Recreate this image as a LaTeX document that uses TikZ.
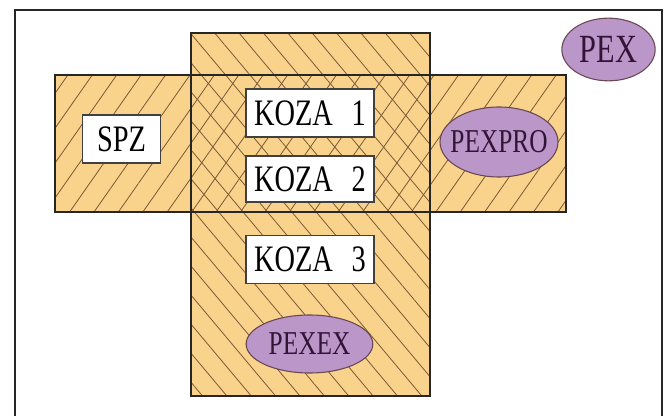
\documentclass[tikz,border=0pt]{standalone}
\usepackage{fontspec}
\usetikzlibrary{shapes.geometric,patterns.meta}
\newfontfamily\lblfont[FakeStretch=0.76]{Liberation Serif}
\definecolor{zonefill}{RGB}{249,210,140}
\definecolor{hatchcol}{RGB}{120,90,55}
\definecolor{pexfill}{RGB}{186,150,201}
\definecolor{pexline}{RGB}{105,70,80}
\definecolor{pextext}{RGB}{50,20,55}
\tikzset{
  kbox/.style={draw=black!75,line width=0.8pt,fill=white,inner sep=0pt,
    minimum width=96pt,minimum height=36pt,font=\lblfont\fontsize{28}{30}\selectfont},
  pexell/.style={ellipse,draw=pexline,line width=0.8pt,fill=pexfill,inner sep=0pt,
    text=pextext,font=\lblfont\fontsize{25}{27}\selectfont},
}
\begin{document}
\begin{tikzpicture}[x=0.75pt,y=0.75pt,yscale=-1,xscale=1]
	\useasboundingbox (0,0) rectangle (667,416);
	\fill[white] (0,0) rectangle (667,416);

	%outer frame
	\draw[line width=1.5pt,black!85] (15,10) -- (662,10) -- (662,440) -- (15,440) -- cycle ;

	%zones
	\fill[zonefill] (55,75) rectangle (566,212);
	\fill[zonefill] (191,33) rectangle (430,396);
	\path[pattern={Lines[angle=55,distance=15pt,line width=0.6pt]},pattern color=hatchcol] (55,75) rectangle (566,212);
	\path[pattern={Lines[angle=-50,distance=14pt,line width=0.6pt]},pattern color=hatchcol] (191,33) rectangle (430,396);
	\draw[line width=1.2pt,black!85] (55,75) rectangle (566,212);
	\draw[line width=1.2pt,black!85] (191,33) rectangle (430,396);

	% Text Node
	\node[kbox,minimum width=59pt] (spz) at (121.5,139) {SPZ};
	% Text Node
	\node[kbox] (koza1) at (310,113) {KOZA\enspace 1};
	% Text Node
	\node[kbox,minimum height=34.5pt] (koza2) at (310,179) {KOZA\enspace 2};
	% Text Node
	\node[kbox] (koza3) at (310,259.5) {KOZA\enspace 3};

	% Ellipses
	\node[pexell,minimum width=88.5pt,minimum height=52.5pt] (pexpro) at (499,142) {\makebox[0pt]{PEXPRO}};
	\node[pexell,minimum width=70pt,minimum height=47pt,font=\lblfont\fontsize{30}{32}\selectfont] (pex) at (608.5,49.5) {\makebox[0pt]{PEX}};
	\node[pexell,minimum width=95pt,minimum height=43.5pt] (pexex) at (309.5,344) {\makebox[0pt]{PEXEX}};
\end{tikzpicture}
\end{document}
